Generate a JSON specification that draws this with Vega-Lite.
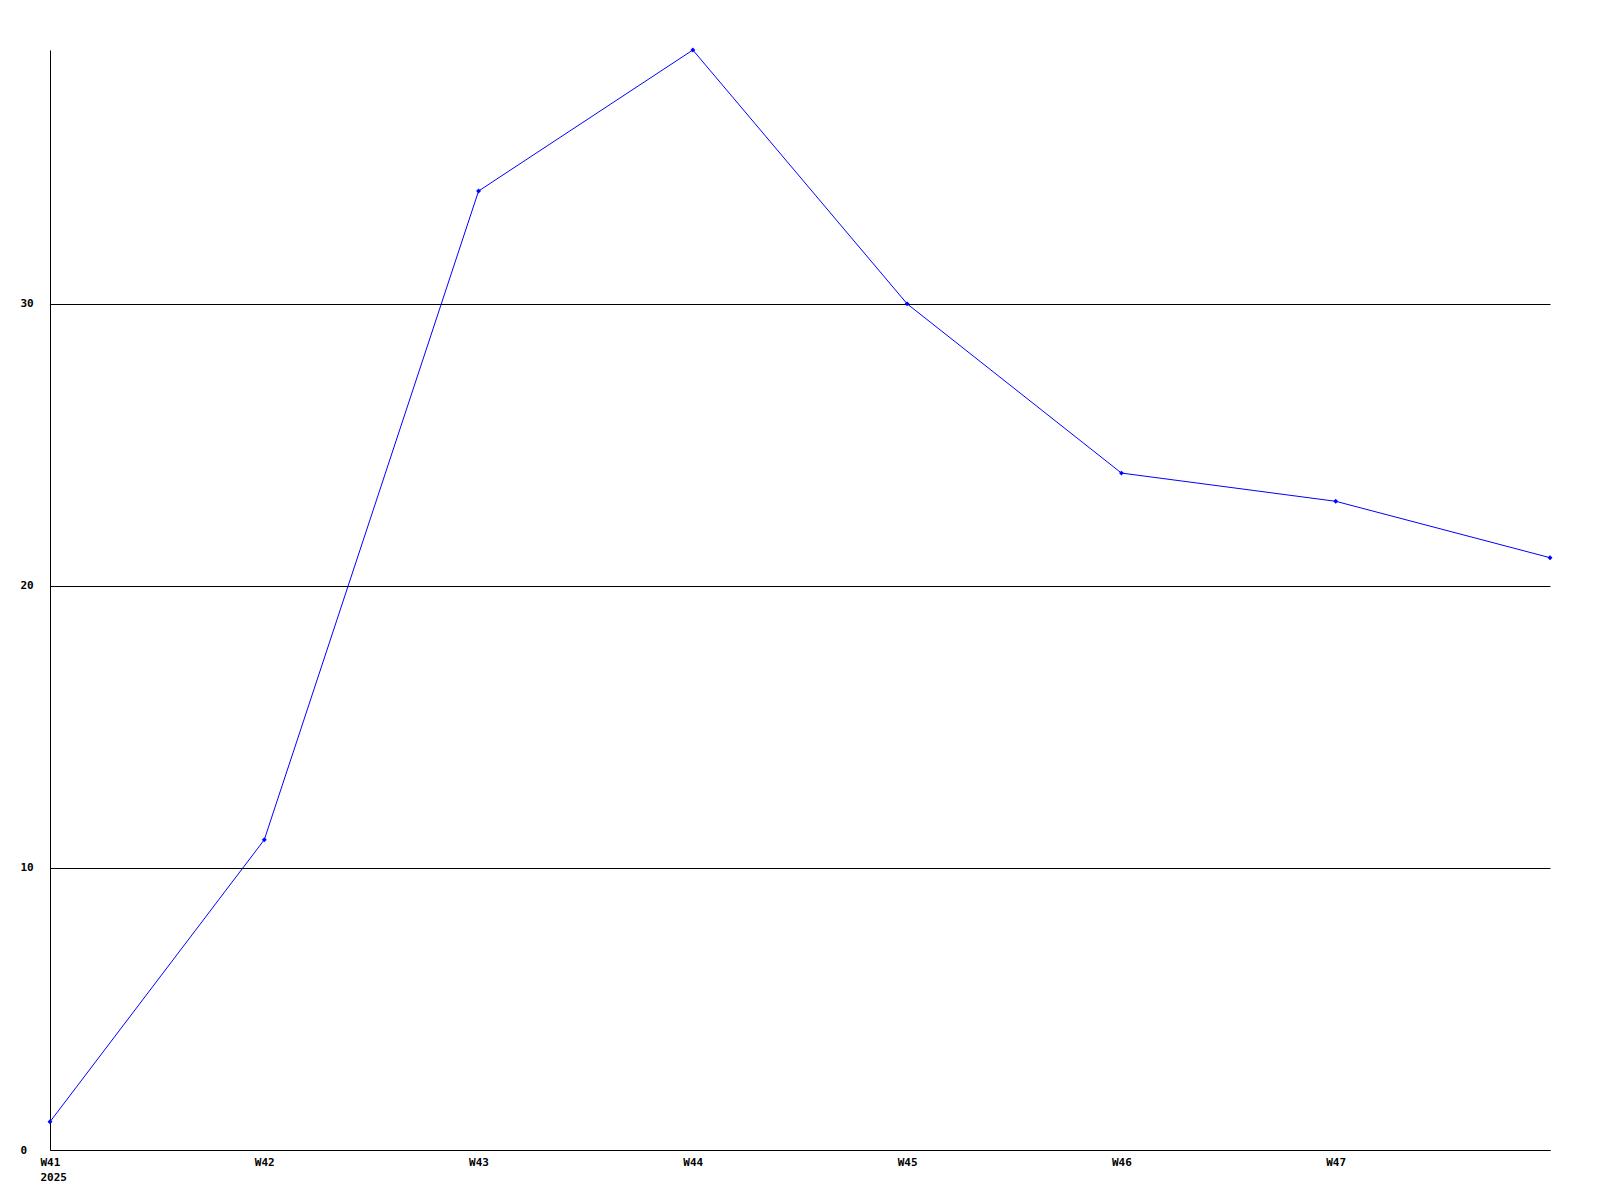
{
  "$schema": "https://vega.github.io/schema/vega-lite/v6.json",
  "width": 1500,
  "height": 1100,
  "autosize": {"type": "none"},
  "padding": {"left": 50, "top": 50, "right": 50, "bottom": 50},
  "background": "white",
  "config": {"view": {"stroke": null}},
  "data": {"values": [
    {"week": "W41", "value": 1},
    {"week": "W42", "value": 11},
    {"week": "W43", "value": 34},
    {"week": "W44", "value": 39},
    {"week": "W45", "value": 30},
    {"week": "W46", "value": 24},
    {"week": "W47", "value": 23},
    {"week": "W48", "value": 21}
  ]},
  "encoding": {
    "x": {"field": "week", "type": "ordinal", "sort": null,
      "scale": {"type": "point", "padding": 0},
      "axis": {"title": null, "labelAngle": 0, "ticks": false, "grid": false,
        "domainColor": "black", "domainWidth": 1,
        "labelFont": "DejaVu Sans Mono", "labelFontWeight": "bold", "labelFontSize": 11,
        "labelColor": "black", "labelPadding": 6, "labelAlign": "left", "labelOffset": -10, "labelBaseline": "top",
        "labelLineHeight": 15,
        "labelExpr": "datum.value == 'W41' ? ['W41', '2025'] : (datum.value == 'W48' ? '' : datum.value)"}},
    "y": {"field": "value", "type": "quantitative",
      "scale": {"domain": [0, 39], "nice": false, "zero": true},
      "axis": {"title": null, "values": [0, 10, 20, 30], "ticks": false,
        "grid": true, "gridColor": "black", "gridOpacity": 1, "gridWidth": 1,
        "domainColor": "black", "domainWidth": 1,
        "labelFont": "DejaVu Sans Mono", "labelFontWeight": "bold", "labelFontSize": 11,
        "labelColor": "black", "labelAlign": "left", "labelPadding": 30}}
  },
  "layer": [
    {"mark": {"type": "line", "color": "#0000ff", "strokeWidth": 1}},
    {"mark": {"type": "point", "shape": "diamond", "filled": true, "color": "#0000ff", "size": 24, "opacity": 1}}
  ]
}
